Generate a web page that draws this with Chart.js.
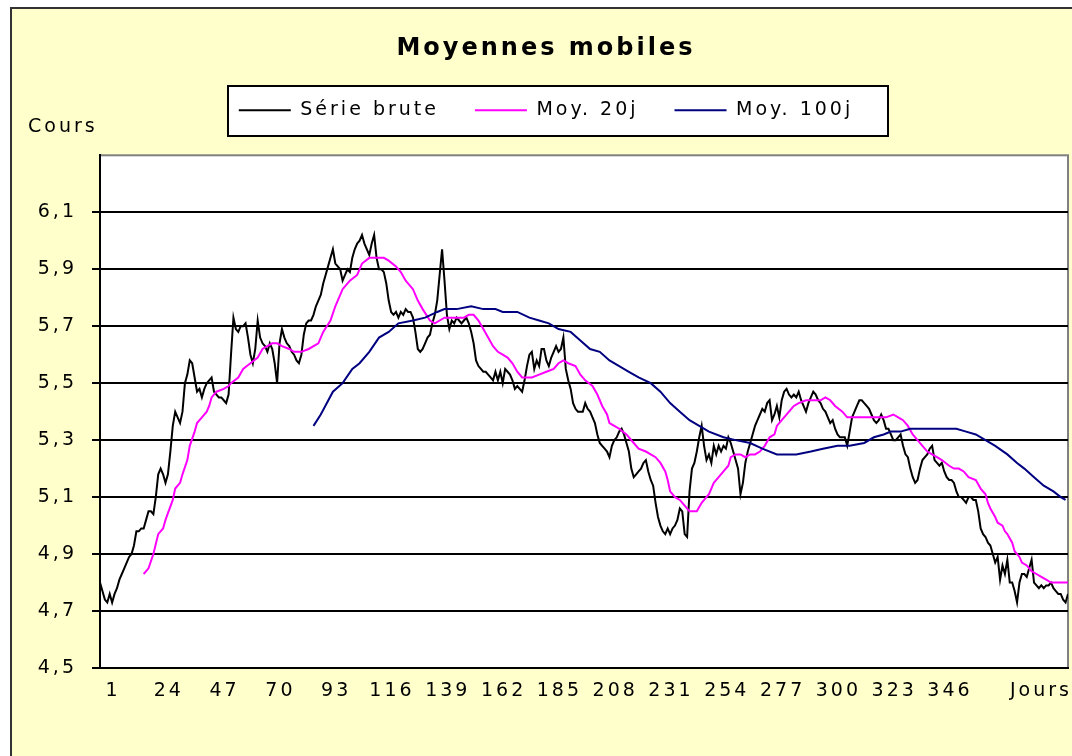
<!DOCTYPE html>
<html>
<head>
<meta charset="utf-8">
<title>Moyennes mobiles</title>
<script src="https://cdn.jsdelivr.net/npm/chart.js@4"></script>
<style>
  body { margin: 0; background: #fff; }
  canvas { display: block; }
</style>
</head>
<body>
<canvas id="movingAverages" width="1072" height="756"></canvas>
<script>
const ctx = document.getElementById('movingAverages');

//Raw series, one value per day (days 1..400)
const rawValues = [
  4.80, 4.77, 4.74, 4.73, 4.76, 4.73, 4.76, 4.78, 4.81, 4.83,
  4.85, 4.87, 4.89, 4.90, 4.93, 4.98, 4.98, 4.99, 4.99, 5.02,
  5.05, 5.05, 5.04, 5.10, 5.18, 5.20, 5.18, 5.15, 5.18, 5.26,
  5.35, 5.40, 5.38, 5.36, 5.40, 5.50, 5.53, 5.58, 5.57, 5.52,
  5.47, 5.48, 5.45, 5.48, 5.50, 5.51, 5.52, 5.47, 5.46, 5.45,
  5.45, 5.44, 5.43, 5.46, 5.60, 5.73, 5.69, 5.68, 5.70, 5.70,
  5.71, 5.66, 5.60, 5.57, 5.62, 5.72, 5.66, 5.64, 5.63, 5.61,
  5.64, 5.62, 5.57, 5.50, 5.64, 5.69, 5.66, 5.64, 5.63, 5.61,
  5.60, 5.58, 5.57, 5.60, 5.67, 5.71, 5.72, 5.72, 5.74, 5.77,
  5.79, 5.81, 5.85, 5.88, 5.91, 5.94, 5.97, 5.92, 5.91, 5.90,
  5.86, 5.88, 5.90, 5.89, 5.94, 5.97, 5.99, 6.00, 6.02, 5.99,
  5.97, 5.95, 5.99, 6.02, 5.94, 5.90, 5.90, 5.89, 5.85, 5.79,
  5.75, 5.74, 5.75, 5.73, 5.75, 5.74, 5.76, 5.75, 5.75, 5.73,
  5.68, 5.62, 5.61, 5.62, 5.64, 5.66, 5.67, 5.71, 5.74, 5.79,
  5.88, 5.97, 5.86, 5.74, 5.69, 5.72, 5.71, 5.73, 5.72, 5.71,
  5.72, 5.73, 5.71, 5.68, 5.64, 5.58, 5.56, 5.55, 5.54, 5.54,
  5.53, 5.52, 5.51, 5.54, 5.51, 5.54, 5.50, 5.55, 5.54, 5.53,
  5.51, 5.48, 5.49, 5.48, 5.47, 5.51, 5.56, 5.60, 5.61, 5.55,
  5.58, 5.56, 5.62, 5.62, 5.58, 5.56, 5.59, 5.61, 5.63, 5.61,
  5.62, 5.66, 5.55, 5.51, 5.48, 5.43, 5.41, 5.40, 5.40, 5.40,
  5.43, 5.41, 5.40, 5.38, 5.36, 5.32, 5.29, 5.28, 5.27, 5.26,
  5.24, 5.28, 5.30, 5.31, 5.33, 5.34, 5.32, 5.29, 5.26, 5.20,
  5.17, 5.18, 5.19, 5.20, 5.22, 5.23, 5.19, 5.16, 5.14, 5.08,
  5.03, 5.00, 4.98, 4.97, 4.99, 4.97, 4.99, 5.00, 5.02, 5.06,
  5.05, 4.97, 4.96, 5.12, 5.20, 5.22, 5.26, 5.31, 5.35, 5.28,
  5.23, 5.25, 5.22, 5.28, 5.25, 5.28, 5.26, 5.28, 5.27, 5.31,
  5.29, 5.26, 5.23, 5.20, 5.11, 5.15, 5.22, 5.26, 5.29, 5.32,
  5.35, 5.37, 5.39, 5.41, 5.40, 5.43, 5.44, 5.37, 5.39, 5.42,
  5.38, 5.44, 5.47, 5.48, 5.46, 5.45, 5.46, 5.45, 5.47, 5.44,
  5.42, 5.40, 5.43, 5.45, 5.47, 5.46, 5.44, 5.43, 5.41, 5.40,
  5.38, 5.36, 5.37, 5.34, 5.32, 5.31, 5.31, 5.31, 5.28, 5.33,
  5.38, 5.40, 5.42, 5.44, 5.44, 5.43, 5.42, 5.41, 5.39, 5.37,
  5.36, 5.37, 5.39, 5.37, 5.34, 5.34, 5.32, 5.30, 5.30, 5.31,
  5.32, 5.28, 5.25, 5.24, 5.20, 5.17, 5.15, 5.16, 5.20, 5.23,
  5.24, 5.25, 5.27, 5.28, 5.23, 5.22, 5.21, 5.22, 5.19, 5.17,
  5.16, 5.16, 5.15, 5.12, 5.10, 5.10, 5.09, 5.08, 5.10, 5.10,
  5.09, 5.09, 5.05, 4.99, 4.97, 4.96, 4.94, 4.93, 4.90, 4.87,
  4.89, 4.81, 4.86, 4.83, 4.88, 4.80, 4.80, 4.77, 4.73, 4.80,
  4.83, 4.83, 4.82, 4.85, 4.88, 4.80, 4.79, 4.78, 4.79, 4.78,
  4.79, 4.79, 4.80, 4.78, 4.77, 4.76, 4.76, 4.74, 4.73, 4.76
];

//20-day moving average, read at these days
const ma20Days = [
  19, 21, 23, 25, 27, 28, 31, 32, 34, 35,
  37, 38, 40, 41, 43, 45, 46, 47, 49, 52,
  54, 55, 58, 60, 63, 66, 68, 70, 72, 74,
  76, 79, 81, 84, 87, 91, 93, 96, 98, 101,
  104, 107, 109, 112, 115, 118, 120, 123, 125, 127,
  130, 132, 134, 137, 139, 141, 143, 146, 149, 151,
  153, 155, 157, 159, 161, 163, 165, 167, 169, 171,
  173, 175, 177, 179, 182, 185, 188, 190, 192, 194,
  197, 199, 201, 204, 206, 208, 210, 211, 213, 215,
  218, 221, 223, 226, 228, 230, 232, 234, 235, 236,
  238, 240, 242, 244, 247, 249, 252, 254, 256, 258,
  260, 261, 263, 265, 267, 269, 271, 273, 275, 277,
  279, 280, 282, 285, 287, 289, 292, 295, 298, 300,
  302, 304, 307, 309, 311, 314, 318, 322, 325, 328,
  330, 332, 334, 336, 338, 340, 342, 344, 346, 348,
  351, 353, 355, 357, 359, 362, 364, 366, 367, 368,
  370, 371, 373, 374, 375, 377, 378, 380, 381, 383,
  385, 387, 389, 391, 393, 396, 400
];
const ma20Values = [
  4.83, 4.85, 4.90, 4.97, 4.99, 5.02, 5.09, 5.13, 5.15, 5.18,
  5.23, 5.28, 5.33, 5.36, 5.38, 5.40, 5.42, 5.45, 5.47, 5.48,
  5.49, 5.50, 5.52, 5.55, 5.57, 5.59, 5.62, 5.63, 5.64, 5.64,
  5.63, 5.62, 5.61, 5.61, 5.62, 5.64, 5.68, 5.72, 5.77, 5.83,
  5.86, 5.88, 5.92, 5.94, 5.94, 5.94, 5.93, 5.91, 5.89, 5.86,
  5.83, 5.79, 5.76, 5.72, 5.71, 5.72, 5.73, 5.73, 5.73, 5.73,
  5.74, 5.74, 5.72, 5.69, 5.66, 5.63, 5.61, 5.60, 5.59, 5.57,
  5.54, 5.52, 5.52, 5.52, 5.53, 5.54, 5.55, 5.57, 5.58, 5.57,
  5.56, 5.53, 5.51, 5.49, 5.46, 5.42, 5.39, 5.36, 5.35, 5.34,
  5.32, 5.29, 5.27, 5.26, 5.25, 5.24, 5.22, 5.19, 5.16, 5.12,
  5.10, 5.09, 5.07, 5.05, 5.05, 5.08, 5.11, 5.15, 5.17, 5.19,
  5.21, 5.24, 5.25, 5.25, 5.24, 5.25, 5.25, 5.26, 5.28, 5.31,
  5.32, 5.35, 5.37, 5.40, 5.42, 5.43, 5.44, 5.44, 5.44, 5.45,
  5.44, 5.42, 5.40, 5.38, 5.38, 5.38, 5.38, 5.38, 5.38, 5.39,
  5.38, 5.37, 5.35, 5.32, 5.30, 5.28, 5.26, 5.25, 5.24, 5.23,
  5.21, 5.20, 5.20, 5.19, 5.17, 5.16, 5.13, 5.11, 5.08, 5.06,
  5.03, 5.01, 5.00, 4.98, 4.97, 4.94, 4.91, 4.89, 4.87, 4.86,
  4.84, 4.83, 4.82, 4.81, 4.80, 4.80, 4.80
];

//100-day moving average, read at these days
const ma100Days = [
  89, 92, 97, 101, 105, 108, 112, 116, 120, 124,
  130, 135, 140, 143, 148, 154, 159, 164, 167, 173,
  178, 182, 186, 190, 195, 199, 203, 207, 211, 215,
  219, 223, 228, 232, 236, 240, 244, 248, 252, 258,
  263, 269, 274, 280, 285, 288, 294, 299, 305, 310,
  316, 320, 324, 327, 331, 335, 340, 347, 354, 358,
  362, 366, 370, 375, 379, 382, 386, 390, 394, 397, 399
];
const ma100Values = [
  5.35, 5.39, 5.47, 5.50, 5.55, 5.57, 5.61, 5.66, 5.68, 5.71,
  5.72, 5.73, 5.75, 5.76, 5.76, 5.77, 5.76, 5.76, 5.75, 5.75,
  5.73, 5.72, 5.71, 5.69, 5.68, 5.65, 5.62, 5.61, 5.58, 5.56,
  5.54, 5.52, 5.50, 5.47, 5.43, 5.40, 5.37, 5.35, 5.33, 5.31,
  5.30, 5.29, 5.27, 5.25, 5.25, 5.25, 5.26, 5.27, 5.28, 5.28,
  5.29, 5.31, 5.32, 5.33, 5.33, 5.34, 5.34, 5.34, 5.34, 5.33,
  5.32, 5.30, 5.28, 5.25, 5.22, 5.20, 5.17, 5.14, 5.12, 5.10, 5.09
];

//Tick labels
const xTickDays = [1, 24, 47, 70, 93, 116, 139, 162, 185, 208, 231, 254, 277, 300, 323, 346];
const yTickValues = [4.5, 4.7, 4.9, 5.1, 5.3, 5.5, 5.7, 5.9, 6.1];

//Build {x, y} points
function toPoints(days, values) {
    return days.map((d, i) => ({x: d, y: values[i]}));
}
const rawPoints = rawValues.map((v, i) => ({x: i + 1, y: v}));

//Excel-like frame, white plot box, legend box and axis captions
const excelLook = {
    id: 'excelLook',
    beforeUpdate(chart) {
        chart.ctx.letterSpacing = '3px';
    },
    beforeDraw(chart) {
        const c = chart.ctx;
        const a = chart.chartArea;
        c.save();
        c.fillStyle = '#fff';
        c.fillRect(0, 0, chart.width, chart.height);
        c.fillStyle = '#FFFFCC';
        c.fillRect(11, 8, chart.width - 11, chart.height - 8);
        c.fillStyle = '#333';
        c.fillRect(10, 7, chart.width - 10, 2);
        c.fillRect(10, 7, 2, chart.height - 7);
        c.fillStyle = '#fff';
        c.fillRect(a.left, a.top, a.right - a.left, a.bottom - a.top);
        c.strokeStyle = '#808080';
        c.lineWidth = 2;
        c.strokeRect(a.left, a.top, a.right - a.left, a.bottom - a.top);

        const boxes = chart.legend.legendHitBoxes;
        const first = boxes[0];
        const last = boxes[boxes.length - 1];
        const x0 = Math.round(first.left - 11);
        const x1 = Math.round(last.left + last.width + 35);
        const y0 = Math.round(first.top - 15);
        const y1 = Math.round(first.top + first.height + 16);
        c.fillStyle = '#fff';
        c.fillRect(x0, y0, x1 - x0, y1 - y0);
        c.strokeStyle = '#000';
        c.lineWidth = 2;
        c.strokeRect(x0, y0, x1 - x0, y1 - y0);
        c.restore();
    },
    afterDraw(chart) {
        const c = chart.ctx;
        const a = chart.chartArea;
        c.save();
        c.font = '19px "DejaVu Sans"';
        c.fillStyle = '#000';
        c.textAlign = 'left';
        c.textBaseline = 'middle';
        c.fillText('Cours', a.left - 72, a.top - 28);
        c.fillText('Jours', a.right - 58, chart.scales.x.top + 23);
        c.restore();
    }
};

Chart.defaults.font.family = '"DejaVu Sans"';
Chart.defaults.font.size = 19;
Chart.defaults.color = '#000';

//Create chart
new Chart(ctx, {
    type: 'line',
    data: {
        datasets: [
            {
                label: 'Série brute',
                data: rawPoints,
                borderColor: '#000000',
                backgroundColor: '#000000',
                borderWidth: 2,
                pointRadius: 0,
                order: 2,
                xAxisID: 'x',
                yAxisID: 'y'
            },
            {
                label: 'Moy. 20j',
                data: toPoints(ma20Days, ma20Values),
                borderColor: '#FF00FF',
                backgroundColor: '#FF00FF',
                borderWidth: 2,
                pointRadius: 0,
                order: 1,
                xAxisID: 'x',
                yAxisID: 'y'
            },
            {
                label: 'Moy. 100j',
                data: toPoints(ma100Days, ma100Values),
                borderColor: '#000080',
                backgroundColor: '#000080',
                borderWidth: 2,
                pointRadius: 0,
                order: 0,
                xAxisID: 'x',
                yAxisID: 'y'
            }
        ]
    },
    options: {
        responsive: false,
        animation: false,
        devicePixelRatio: 1,
        layout: {
            padding: {top: 0, right: 4, bottom: 0, left: 24}
        },
        plugins: {
            title: {
                display: true,
                text: 'Moyennes mobiles',
                color: '#000',
                font: {size: 24, weight: 'bold'},
                padding: {top: 34, bottom: 2}
            },
            legend: {
                labels: {
                    usePointStyle: true,
                    pointStyle: 'line',
                    pointStyleWidth: 52,
                    padding: 36,
                    color: '#000',
                    font: {size: 19},
                    sort: (a, b) => a.datasetIndex - b.datasetIndex
                }
            },
            tooltip: {enabled: false}
        },
        scales: {
            x: {
                type: 'linear',
                min: 1,
                max: 400,
                afterBuildTicks: s => { s.ticks = xTickDays.map(v => ({value: v})); },
                afterFit: s => { s.height = 88; },
                grid: {display: false, drawTicks: false},
                border: {color: '#000', width: 2},
                ticks: {padding: 12, labelOffset: 13, maxRotation: 0, autoSkip: false}
            },
            spacer: {
                type: 'linear',
                position: 'top',
                ticks: {display: false},
                grid: {display: false, drawTicks: false},
                border: {display: false},
                afterFit: s => { s.height = 25.5; }
            },
            y: {
                type: 'linear',
                min: 4.5,
                max: 6.3,
                afterBuildTicks: s => { s.ticks = yTickValues.map(v => ({value: v})); },
                afterFit: s => { s.width = 76; },
                grid: {color: '#000', lineWidth: 2, tickLength: 8},
                border: {color: '#000', width: 2},
                ticks: {
                    padding: 15,
                    autoSkip: false,
                    callback: v => v.toFixed(1).replace('.', ',')
                }
            }
        }
    },
    plugins: [excelLook]
});
</script>
</body>
</html>
